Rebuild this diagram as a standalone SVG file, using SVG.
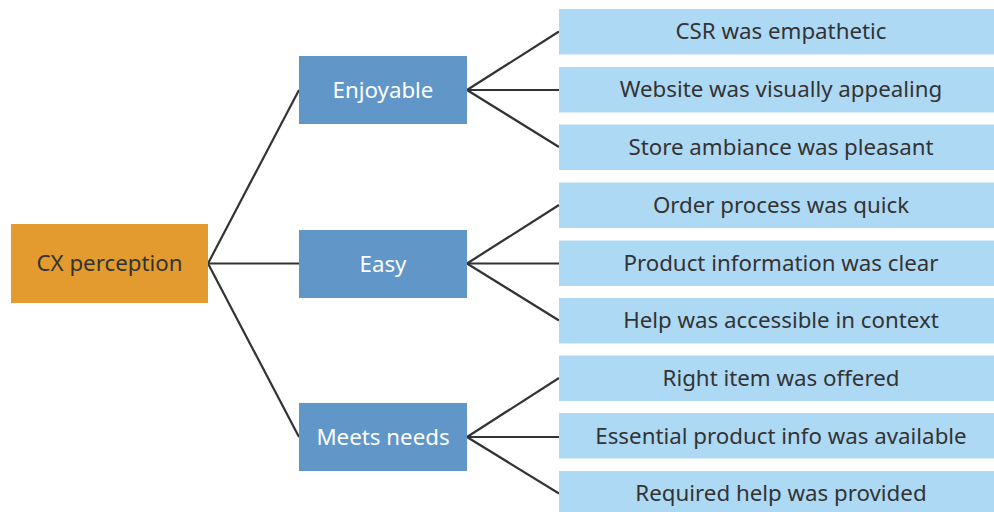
<svg xmlns="http://www.w3.org/2000/svg" width="994" height="512" viewBox="0 0 994 512">
<style>
text{font-family:"Noto Sans","Open Sans",sans-serif;font-size:22.3px;text-anchor:middle;dominant-baseline:central}
.root rect{fill:#E39B2F}
.root text{fill:#333333}
.mid rect{fill:#6096C8}
.mid text{fill:#FFFFFF}
.leaf rect{fill:#AED9F4}
.leaf text{fill:#333333}
.edges line{stroke:#333333;stroke-width:2.2}
</style>
<rect width="994" height="512" fill="#FFFFFF"/>
<g class="edges" id="connectors">
<line x1="208" y1="263.5" x2="299" y2="90"/>
<line x1="208" y1="263.5" x2="299" y2="263.5"/>
<line x1="208" y1="263.5" x2="299" y2="437"/>
<line x1="467" y1="90" x2="559" y2="31.5"/>
<line x1="467" y1="90" x2="559" y2="90"/>
<line x1="467" y1="90" x2="559" y2="147"/>
<line x1="467" y1="263.5" x2="559" y2="205"/>
<line x1="467" y1="263.5" x2="559" y2="263.5"/>
<line x1="467" y1="263.5" x2="559" y2="320.5"/>
<line x1="467" y1="437" x2="559" y2="378"/>
<line x1="467" y1="437" x2="559" y2="437"/>
<line x1="467" y1="437" x2="559" y2="493.5"/>
</g>
<g class="root" id="cx"><rect x="11" y="224" width="197" height="79"/><text x="109.5" y="262.5">CX perception</text></g>
<g class="mid" id="enjoyable"><rect x="299" y="56" width="168" height="68"/><text x="383" y="89">Enjoyable</text></g>
<g class="mid" id="easy"><rect x="299" y="230" width="168" height="68"/><text x="383" y="263">Easy</text></g>
<g class="mid" id="meets"><rect x="299" y="403" width="168" height="68"/><text x="383" y="436">Meets needs</text></g>
<g class="leaf" id="l1"><rect x="559" y="9" width="435" height="45.5"/><text x="781" y="30.5">CSR was empathetic</text></g>
<g class="leaf" id="l2"><rect x="559" y="67" width="435" height="45.5"/><text x="781" y="88.5">Website was visually appealing</text></g>
<g class="leaf" id="l3"><rect x="559" y="124.5" width="435" height="45.5"/><text x="781" y="146">Store ambiance was pleasant</text></g>
<g class="leaf" id="l4"><rect x="559" y="182.5" width="435" height="45.5"/><text x="781" y="204">Order process was quick</text></g>
<g class="leaf" id="l5"><rect x="559" y="240.5" width="435" height="45.5"/><text x="781" y="262">Product information was clear</text></g>
<g class="leaf" id="l6"><rect x="559" y="298" width="435" height="45.5"/><text x="781" y="319.5">Help was accessible in context</text></g>
<g class="leaf" id="l7"><rect x="559" y="355.5" width="435" height="45.5"/><text x="781" y="377">Right item was offered</text></g>
<g class="leaf" id="l8"><rect x="559" y="413" width="435" height="45.5"/><text x="781" y="435">Essential product info was available</text></g>
<g class="leaf" id="l9"><rect x="559" y="471" width="435" height="41"/><text x="781" y="492">Required help was provided</text></g>
</svg>
